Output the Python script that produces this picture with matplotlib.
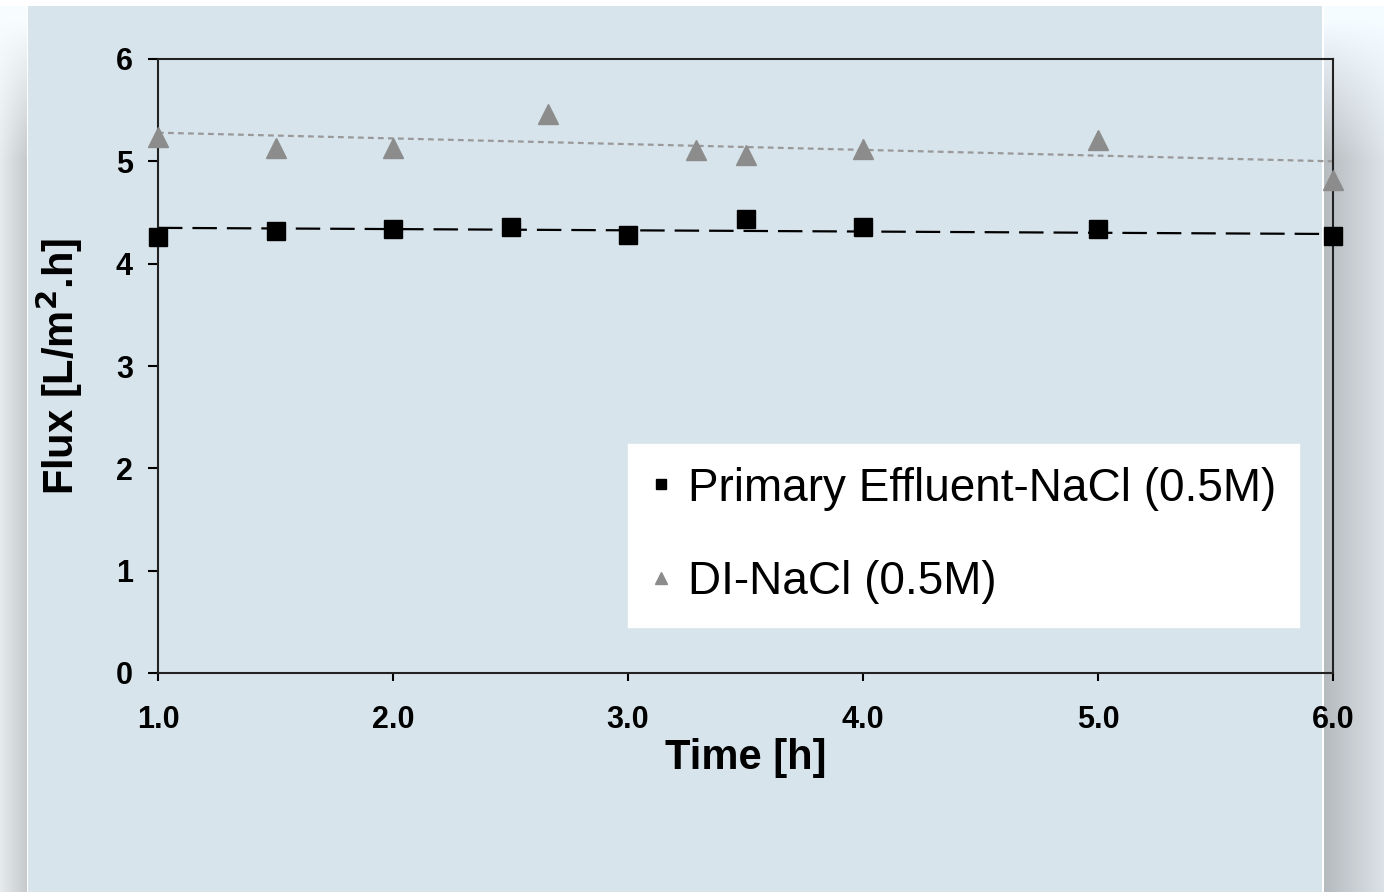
import numpy as np
import matplotlib
matplotlib.use("Agg")
import matplotlib.pyplot as plt
from matplotlib.ticker import FormatStrFormatter

plt.rcParams['font.family'] = ['Liberation Sans', 'DejaVu Sans']

# data
time_pe = [1.0, 1.5, 2.0, 2.5, 3.0, 3.5, 4.0, 5.0, 6.0]
flux_pe = [4.26, 4.32, 4.34, 4.36, 4.28, 4.44, 4.36, 4.34, 4.27]
time_di = [1.0, 1.5, 2.0, 2.66, 3.29, 3.5, 4.0, 5.0, 6.0]
flux_di = [5.24, 5.13, 5.13, 5.46, 5.11, 5.06, 5.12, 5.21, 4.82]
# trend lines as drawn in the chart (start / end values)
trend_time = [1.0, 6.0]
trend_pe = [4.35, 4.29]
trend_di = [5.28, 5.00]
labels = ["Primary Effluent-NaCl (0.5M)", "DI-NaCl (0.5M)"]

W, H = 1384, 892
fig = plt.figure(figsize=(W / 100, H / 100), dpi=100)
fig.patch.set_facecolor("white")

# background: light panel with shaded strips at the sides
img = np.ones((H, W, 3))
panel = np.array([216, 228, 236]) / 255
img[6:, 28:1322] = panel
yy = np.arange(H)[:, None]
fade = np.clip((yy - 20) / 140.0, 0, 1)
xl = np.arange(0, 27)[None, :]
left = 0.93 - 0.13 * (xl / 26.0)
lc = 1 - (1 - left) * fade
img[:, 0:27] = np.stack([lc * 0.97, lc * 0.99, lc * 1.0], axis=-1).clip(0, 1)
xr = np.arange(1324, W)[None, :]
right = 0.74 + 0.16 * ((xr - 1324) / 60.0)
rc = 1 - (1 - right) * fade
img[:, 1324:W] = np.stack([rc * 0.96, rc * 0.99, rc * 1.01], axis=-1).clip(0, 1)
img[:6, :] = 1.0

bg = fig.add_axes([0, 0, 1, 1])
bg.imshow(img, aspect="auto", extent=(0, 1, 0, 1), origin="upper")
bg.axis("off")
bg.set_zorder(0)

ax = fig.add_axes([158 / W, 1 - 673 / H, (1333 - 158) / W, (673 - 59) / H])
ax.set_zorder(1)
ax.set_facecolor("none")

# trend lines
ax.plot(trend_time, trend_pe, color="black", lw=1.6, dashes=(11, 4.5), zorder=2, clip_on=False)
ax.plot(trend_time, trend_di, color="#999999", lw=1.6, dashes=(2.6, 1.9), zorder=2, clip_on=False)

h1, = ax.plot(time_pe, flux_pe, linestyle="none", marker="s", ms=13, color="black",
              zorder=3, clip_on=False)
h2, = ax.plot(time_di, flux_di, linestyle="none", marker="^", ms=15, color="#8c8c8c",
              zorder=3, clip_on=False)

ax.set_xlim(1, 6)
ax.set_ylim(0, 6)
ax.set_xticks([1, 2, 3, 4, 5, 6])
ax.set_yticks([0, 1, 2, 3, 4, 5, 6])
ax.xaxis.set_major_formatter(FormatStrFormatter('%.1f'))
for s in ax.spines.values():
    s.set_linewidth(1.5)
    s.set_color("#222222")
ax.tick_params(axis="x", direction="out", length=6, width=1.5, pad=17, labelsize=22)
ax.tick_params(axis="y", direction="out", length=7, width=1.5, pad=11, labelsize=22)
for t in ax.get_xticklabels() + ax.get_yticklabels():
    t.set_fontweight("bold")

ax.set_xlabel("Time [h]", fontsize=30, fontweight="bold", labelpad=2)
ax.set_ylabel("Flux [L/m$^\\mathbf{2}$.h]", fontsize=30, fontweight="bold", labelpad=22)

leg = ax.legend([h1, h2], labels, loc="lower left", bbox_to_anchor=(0.4, 0.075),
                fontsize=33, frameon=True, fancybox=False, framealpha=1,
                edgecolor="white", facecolor="white", markerscale=0.6,
                handlelength=0.45, handletextpad=0.35, labelspacing=1.08,
                borderpad=0.5, borderaxespad=0)

fig.savefig("out.png", dpi=100)
